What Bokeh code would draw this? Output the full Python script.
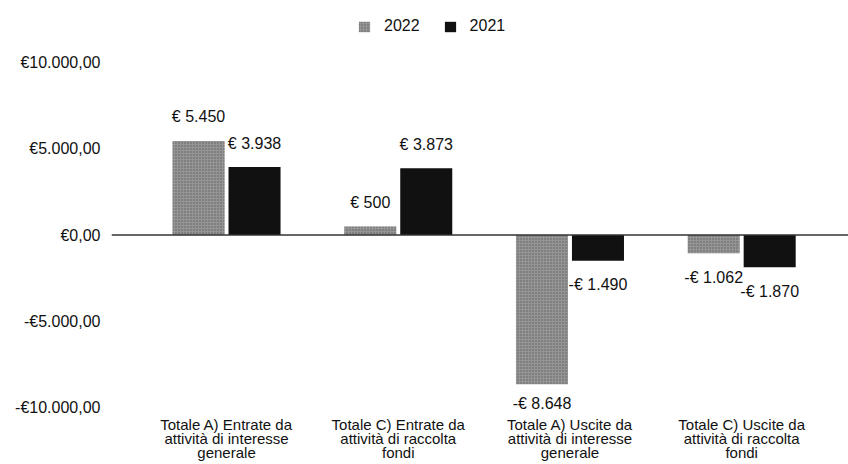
from bokeh.plotting import figure
from bokeh.models import (ColumnDataSource, Range1d, FixedTicker, Span, Legend, LegendItem, LabelSet)
from bokeh.core.properties import value
from bokeh.embed import file_html
from bokeh.resources import INLINE

# ---- data ----
categories = [
    "Totale A) Entrate da\nattività di interesse\ngenerale",
    "Totale C) Entrate da\nattività di raccolta\nfondi",
    "Totale A) Uscite da\nattività di interesse\ngenerale",
    "Totale C) Uscite da\nattività di raccolta\nfondi",
]
series_names = ["2022", "2021"]
values_2022 = [5450, 500, -8648, -1062]
values_2021 = [3938, 3873, -1490, -1870]
y_ticks = [-10000, -5000, 0, 5000, 10000]

FONT = "Liberation Sans"

def eur(v, decimals=False):
    s = f"{abs(v):,}".replace(",", ".")
    if decimals:
        return ("-€" if v < 0 else "€") + s + ",00"
    return ("-€ " if v < 0 else "€ ") + s

# frame spans the full top of the canvas so that legend and labels are not clipped;
# the visible scale runs -10000..10000 between tick labels
units_per_px = 20000 / 345
p = figure(width=848, height=464, output_backend="svg", toolbar_location=None,
           x_range=Range1d(-0.670, 3.622),
           y_range=Range1d(-10000 - 8 * units_per_px, 10000 + 62 * units_per_px),
           min_border_left=111, min_border_right=0, min_border_top=0,
           min_border_bottom=49)
p.outline_line_color = None
p.xgrid.visible = False
p.ygrid.visible = False
p.background_fill_color = "white"

idx = list(range(len(categories)))
dx = 0.163
bw = 0.303
colors = {"2022": "#959595", "2021": "#111111"}

def offsets(vals, big_neg_gap=19, gap=24):
    # LabelSet: positive offset moves up
    return [gap if v >= 0 else -(big_neg_gap if v < -5000 else gap) for v in vals]

src22 = ColumnDataSource(dict(x=[i - dx for i in idx], top=values_2022,
                              label=[eur(v) for v in values_2022],
                              off=offsets(values_2022)))
src21 = ColumnDataSource(dict(x=[i + dx for i in idx], top=values_2021,
                              label=[eur(v) for v in values_2021],
                              off=offsets(values_2021)))

r22 = p.vbar(x="x", top="top", bottom=0, width=bw, source=src22,
             fill_color=colors["2022"], line_color=None,
             hatch_pattern="dot", hatch_color="#5e5e5e", hatch_scale=3, hatch_weight=1)
r21 = p.vbar(x="x", top="top", bottom=0, width=bw, source=src21,
             fill_color=colors["2021"], line_color=None)

for s in (src22, src21):
    p.add_layout(LabelSet(x="x", y="top", text="label", source=s, y_offset="off",
                          text_align="center", text_baseline="middle",
                          text_font=value(FONT), text_font_size=value("16px"),
                          text_color="#111111"))

p.add_layout(Span(location=0, dimension="width", line_color="#333333", line_width=1.5))

# y axis
ya = p.yaxis[0]
ya.ticker = FixedTicker(ticks=y_ticks)
ya.major_label_overrides = {t: eur(t, decimals=True) for t in y_ticks}
ya.axis_line_color = None
ya.major_tick_line_color = None
ya.minor_tick_line_color = None
ya.major_tick_out = 0
ya.major_tick_in = 0
ya.major_label_standoff = 11
ya.major_label_text_font = FONT
ya.major_label_text_font_size = "16px"
ya.major_label_text_color = "#111111"

# x axis
xa = p.xaxis[0]
xa.ticker = FixedTicker(ticks=idx)
xa.major_label_overrides = {i: c for i, c in zip(idx, categories)}
xa.axis_line_color = None
xa.major_tick_line_color = None
xa.minor_tick_line_color = None
xa.major_tick_out = 0
xa.major_tick_in = 0
xa.major_label_standoff = 0
xa.major_label_text_font = FONT
xa.major_label_text_font_size = "15px"
xa.major_label_text_line_height = 0.85
xa.major_label_text_color = "#111111"

legend = Legend(items=[LegendItem(label=series_names[0], renderers=[r22]),
                       LegendItem(label=series_names[1], renderers=[r21])],
                orientation="horizontal", location=(246, 380),
                padding=0, margin=0, spacing=23, label_standoff=13,
                glyph_width=14, glyph_height=13, label_height=18,
                border_line_color=None, background_fill_alpha=0,
                label_text_font=FONT, label_text_font_size="16px",
                label_text_color="#111111")
p.add_layout(legend, "center")

open("out.html", "w").write(file_html(p, INLINE))
